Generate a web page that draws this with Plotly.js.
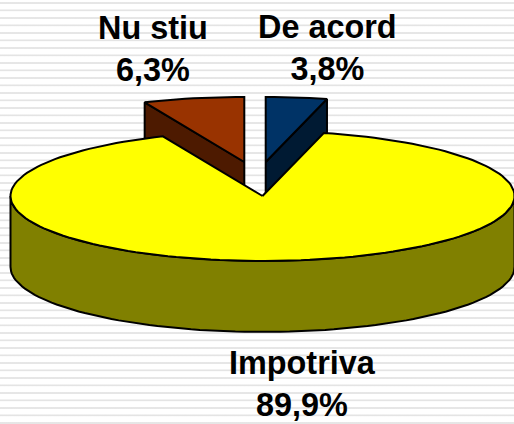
<!DOCTYPE html>
<html><head><meta charset="utf-8">
<script src="https://cdn.plot.ly/plotly-3.0.1.min.js"></script>
<style>
html,body{margin:0;padding:0;width:514px;height:424px;overflow:hidden;
background:repeating-linear-gradient(to bottom,#fff 0,#fff 1.7px,#e8e8e8 2.2px,#e2e2e2 3.4px,#fff 4.1px,#fff 7.5px);}
#chart{width:514px;height:424px;}
.annotation-text{-webkit-text-stroke:0.45px #000;}
</style></head><body><div id="chart"></div>
<script>
const categories=["De acord","Impotriva","Nu stiu"];
const shares=[3.8,89.9,6.3];
const topColors=["#003366","#FFFF00","#993300"];
const sideColors=["#001A33","#808000","#4D1A00"];
const apexX=[265.7,262.5,244.3];
const apexY=[162,196,162];
const labelX=[327.5,302,153];
const labelY=[48,383.5,48.5];
const RX=252,RY=65,DEPTH=71,TILT=1.03;

const total=shares.reduce((a,b)=>a+b,0);
const deg=shares.map(s=>s/total*360);
const start=[0,deg[0],deg[0]+deg[1]];
function pt(cx,cy,a){
  const r=a*Math.PI/180;
  const t=Math.atan2(Math.sin(r)*TILT,Math.cos(r));
  return [cx+RX*Math.sin(t),cy-RY*Math.cos(t)];
}
function wedge(i){
  const xs=[apexX[i]],ys=[apexY[i]];
  const n=Math.max(4,Math.ceil(deg[i]/2));
  for(let k=0;k<=n;k++){const p=pt(apexX[i],apexY[i],start[i]+deg[i]*k/n);xs.push(p[0]);ys.push(p[1]);}
  xs.push(apexX[i]);ys.push(apexY[i]);
  return {x:xs,y:ys};
}
function poly(x,y,fill,name){
  return {type:"scatter",mode:"lines",x,y,fill:"toself",fillcolor:fill,name,
    line:{color:"#000",width:2,shape:"linear"},hoverinfo:"name",showlegend:false};
}
function cutFace(i,a){
  const p=pt(apexX[i],apexY[i],a);
  return poly([apexX[i],p[0],p[0],apexX[i],apexX[i]],
              [apexY[i],p[1],p[1]+DEPTH,apexY[i]+DEPTH,apexY[i]],sideColors[i],categories[i]);
}
function rim(i){
  const xs=[],ys=[],bx=[],by=[];
  for(let a=270;a>=90;a-=2){const p=pt(apexX[i],apexY[i],a);xs.push(p[0]);ys.push(p[1]);bx.unshift(p[0]);by.unshift(p[1]+DEPTH);}
  return poly(xs.concat(bx,[xs[0]]),ys.concat(by,[ys[0]]),sideColors[i],categories[i]);
}
const w=[0,1,2].map(wedge);
const traces=[
  cutFace(2,start[2]),
  poly(w[2].x,w[2].y,topColors[2],categories[2]),
  cutFace(0,start[0]+deg[0]),
  poly(w[0].x,w[0].y,topColors[0],categories[0]),
  rim(1),
  poly(w[1].x,w[1].y,topColors[1],categories[1])
];
const annotations=categories.map((c,i)=>({
  x:labelX[i],y:labelY[i],xref:"x",yref:"y",showarrow:false,
  text:c+"<br>"+shares[i].toFixed(1).replace(".",",")+"%",
  font:{family:"Liberation Sans, Arial, sans-serif",size:32.4,color:"#000",weight:700},
  align:"center",xanchor:"center",yanchor:"middle"
}));
const hidden=r=>({range:r,visible:false,fixedrange:true});
Plotly.newPlot("chart",traces,{
  width:514,height:424,margin:{l:0,r:0,t:0,b:0},
  paper_bgcolor:"rgba(0,0,0,0)",plot_bgcolor:"rgba(0,0,0,0)",
  xaxis:hidden([0,514]),yaxis:hidden([424,0]),annotations,showlegend:false
},{displayModeBar:false,staticPlot:true});
</script></body></html>
